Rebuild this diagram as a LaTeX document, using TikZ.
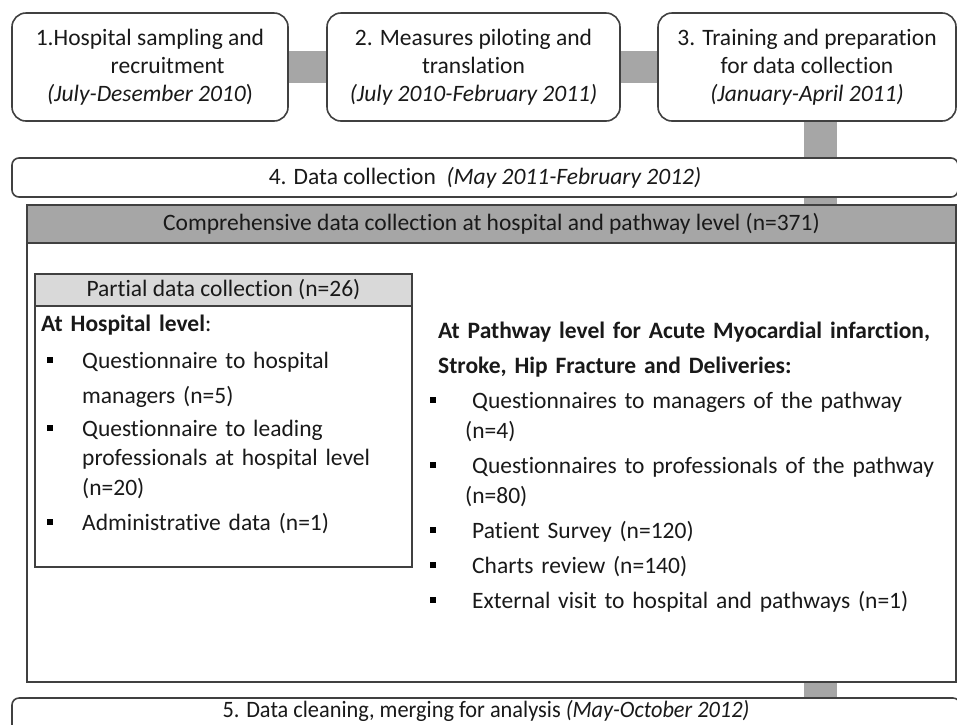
\documentclass[tikz,border=0pt]{standalone}
\usepackage{fontspec}
\usepackage{graphicx}
\setmainfont{Carlito}[Ligatures=NoCommon]
\usetikzlibrary{backgrounds}
\definecolor{edgegray}{HTML}{404040}
\definecolor{bargray}{HTML}{A6A6A6}
\definecolor{headgray}{HTML}{A6A6A6}
\definecolor{palegray}{HTML}{D9D9D9}

\begin{document}
\begin{tikzpicture}[x=1pt, y=-1pt,
    every node/.style={font=\fontsize{23.5}{28}\selectfont, text=black!90},
    stepbox/.style={draw=edgegray, line width=1.6pt, rounded corners=14pt, fill=white, align=center, inner sep=0pt},
    flatbox/.style={draw=edgegray, line width=1.6pt, fill=white, inner sep=0pt},
    bar/.style={draw=bargray, line width=32pt},
    bullet/.style={fill=black, inner sep=0pt, minimum size=6pt},
    item/.style={anchor=base west, inner sep=0pt, text width=560pt, align=left}]
	%%%%% START %%%%%
	\useasboundingbox (0,0) rectangle (957,724);
	
	% top row
	\node[stepbox, minimum width=276pt, minimum height=108pt] (b1) at (150,67)
		{1.Hospital sampling and\\\hspace{1.5em}recruitment\\\textit{(July-Desember 2010})};
	\node[stepbox, minimum width=293pt, minimum height=108pt] (b2) at (473.5,67)
		{2. Measures piloting and\\translation\\\textit{(July 2010-February 2011)}};
	\node[stepbox, minimum width=298pt, minimum height=108pt] (b3) at (807,67)
		{3. Training and preparation\\for data collection\\\textit{(January-April 2011)}};
	
	\node[stepbox, rounded corners=7pt, minimum width=946pt, minimum height=39pt] (b4) at (485,177.5)
		{4. Data collection\ \ \textit{(May 2011-February 2012)}};
	
	% comprehensive block
	\node[flatbox, minimum width=929pt, minimum height=477pt] (big) at (491.5,443.5) {};
	\node[flatbox, fill=headgray, minimum width=929pt, minimum height=38pt] (hdr) at (491.5,224)
		{Comprehensive data collection at hospital and pathway level (n=371)};
	
	% partial block
	\node[flatbox, minimum width=377pt, minimum height=293pt] (part) at (223.5,420.5) {};
	\node[flatbox, fill=palegray, minimum width=377pt, minimum height=32pt] (parthdr) at (223.5,290)
		{Partial data collection (n=26)};
	
	\node[item] (hlev) at (41,331) {\textbf{At Hospital level}:};
	\node[bullet] (hb1) at (50,360) {};
	\node[item, font=\fontsize{23.5}{35}\selectfont] (hq1) at (82,368) {Questionnaire to hospital\\managers (n=5)};
	\node[bullet] (hb2) at (50,428) {};
	\node[item, font=\fontsize{23.5}{29.5}\selectfont] (hq2) at (82,436) {Questionnaire to leading\\professionals at hospital level\\(n=20)};
	\node[bullet] (hb3) at (50,522) {};
	\node[item] (hq3) at (82,530) {Administrative data (n=1)};
	
	% pathway level
	\node[item, font=\fontsize{23.5}{35}\selectfont\bfseries] (plev) at (438,338)
		{At Pathway level for Acute Myocardial infarction,\\Stroke, Hip Fracture and Deliveries:};
	\node[bullet] (pb1) at (433,400) {};
	\node[item, font=\fontsize{23.5}{30}\selectfont] (pq1) at (465,408) {\hspace{7pt}Questionnaires to managers of the pathway\\(n=4)};
	\node[bullet] (pb2) at (433,465) {};
	\node[item, font=\fontsize{23.5}{30}\selectfont] (pq2) at (465,473) {\hspace{7pt}Questionnaires to professionals of the pathway\\(n=80)};
	\node[bullet] (pb3) at (433,530) {};
	\node[item] (pq3) at (472,538) {Patient Survey (n=120)};
	\node[bullet] (pb4) at (433,565) {};
	\node[item] (pq4) at (472,573) {Charts review (n=140)};
	\node[bullet] (pb5) at (433,600) {};
	\node[item] (pq5) at (472,608) {External visit to hospital and pathways (n=1)};
	
	% last step
	\node[stepbox, rounded corners=7pt, minimum width=948pt, minimum height=40pt, text height=17pt, text depth=18pt] (b5) at (486,718)
		{\scalebox{0.95}[1]{5. Data cleaning, merging for analysis \textit{(May-October 2012)}}};
	
	% grey bars
	\coordinate (tap) at (820.5,0);
	\begin{scope}[on background layer]
		\draw[bar] (b1) -- (b2);
		\draw[bar] (b2) -- (b3);
		\draw[bar, line width=33pt] (b3.south -| tap) -- (hdr.north -| tap);
		\draw[bar, line width=33pt] (big.south -| tap) -- (b5.north -| tap);
	\end{scope}
	%%%%% END %%%%%
\end{tikzpicture}
\end{document}
